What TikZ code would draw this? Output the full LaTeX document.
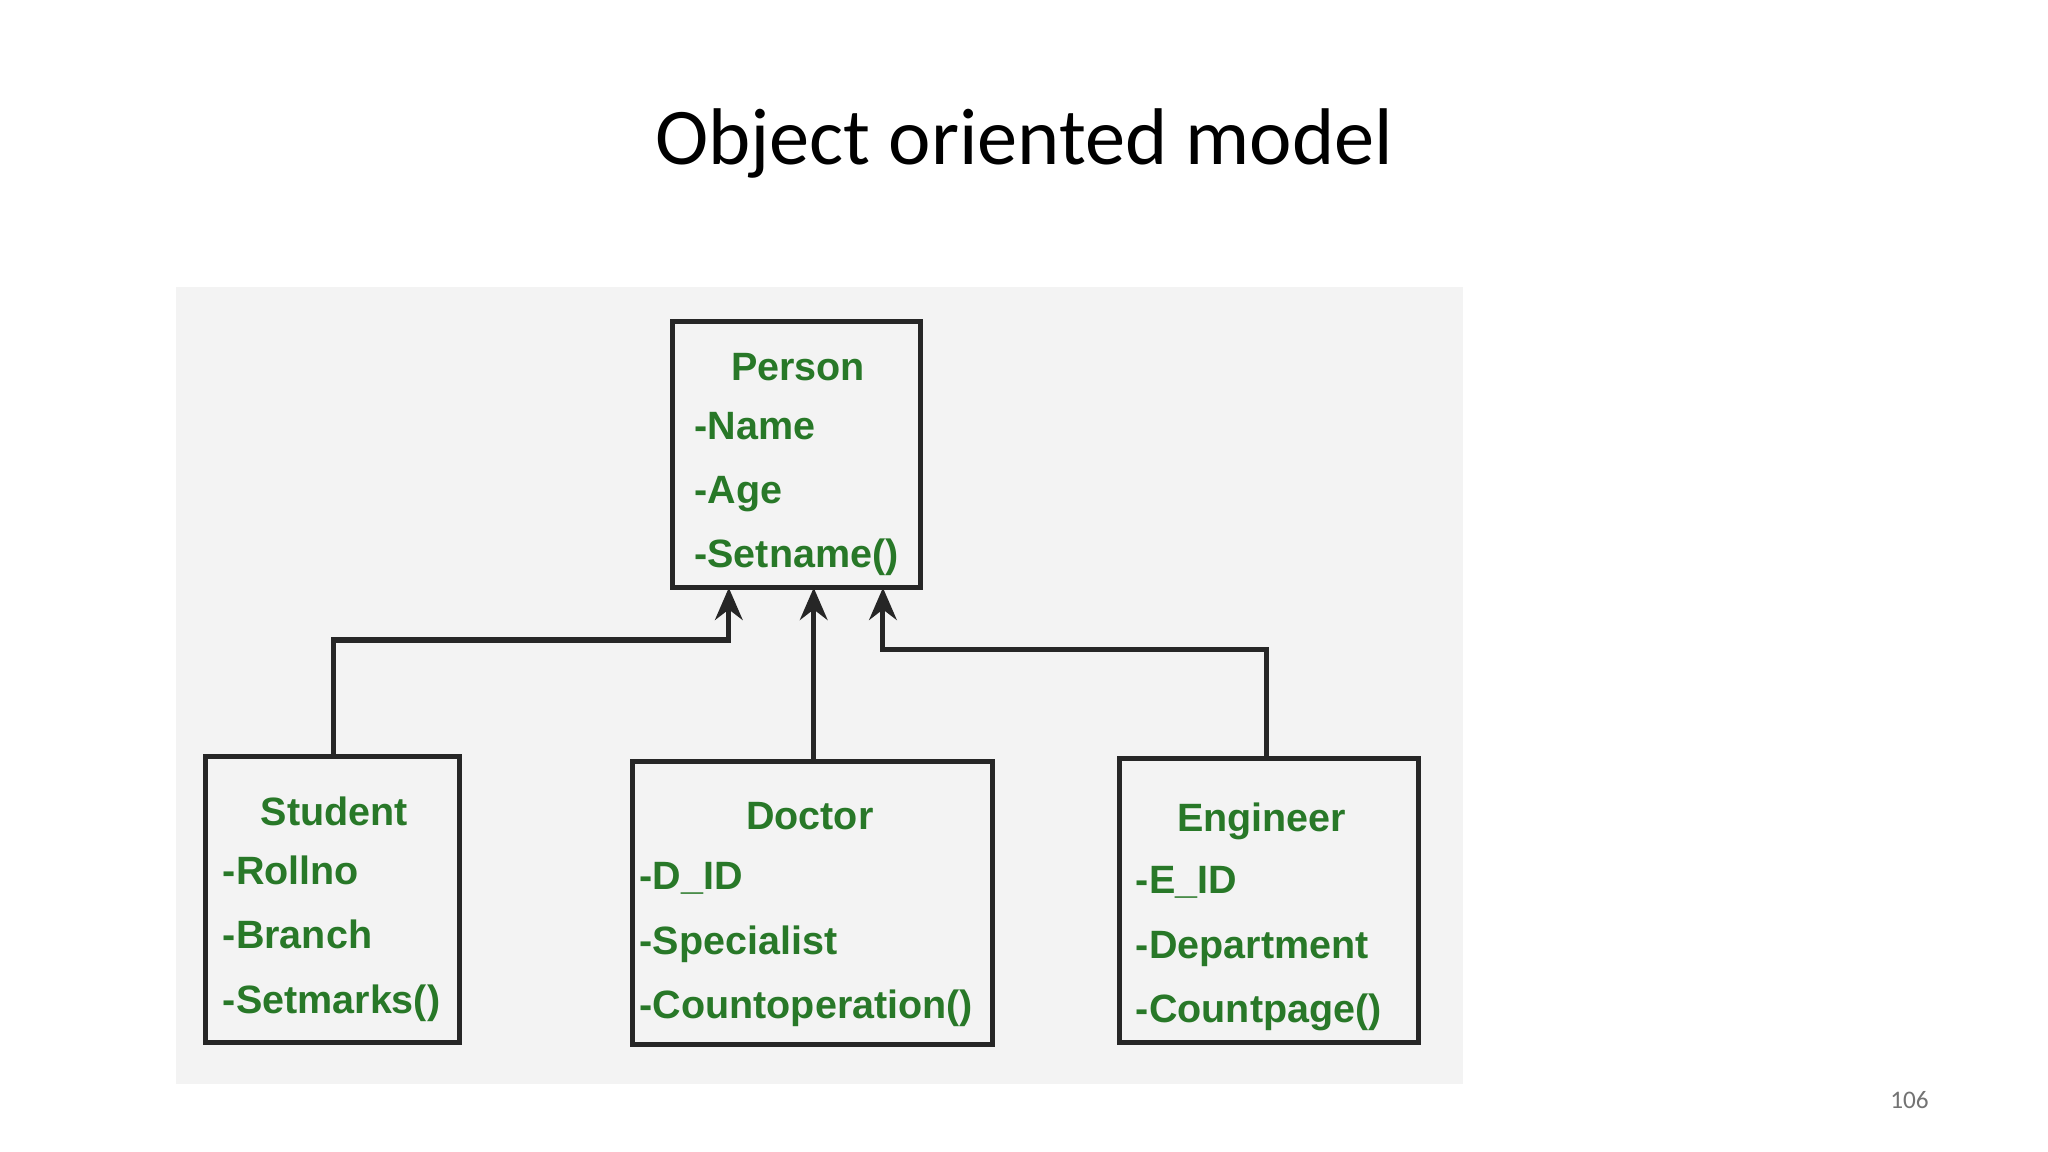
\documentclass[tikz,border=0pt]{standalone}
\usepackage{fontspec}
\setmainfont{Carlito}
\newfontfamily\boxfont{Liberation Sans}
\usetikzlibrary{arrows.meta}
\definecolor{txtgreen}{RGB}{40,120,40}
\definecolor{panel}{RGB}{243,243,243}
\tikzset{
  cls/.style={draw=black!85,line width=1.1pt,fill=panel},
  lbl/.style={font=\boxfont\bfseries\fontsize{8.6}{12}\selectfont,text=txtgreen,inner sep=0pt},
  conn/.style={draw=black!85,line width=1.1pt,-{Stealth[length=7pt,width=6pt]}}
}
\begin{document}
\begin{tikzpicture}[x=0.01cm,y=-0.01cm]
\useasboundingbox (0,0) rectangle (1568,882);
\fill[white] (0,0) rectangle (1568,882);
\node[font=\fontsize{17.5}{20}\selectfont] (title) at (784,110) {Object oriented model};
\fill[panel] (135,220) rectangle (1120,830);
% boxes
\draw[cls] (515,246) rectangle (705,450);
\coordinate (pb1) at (558,450); \coordinate (pb2) at (623,450); \coordinate (pb3) at (676,450);
\draw[cls] (157,579) rectangle (352,798);
\draw[cls] (484,583) rectangle (760,800);
\draw[cls] (857,581) rectangle (1086,798);
\coordinate (st) at (255,579); \coordinate (dt) at (623,583); \coordinate (et) at (970,581);
% texts
\node[lbl] (pn) at (611,281) {Person};
\node[lbl,anchor=north west] (pa) at (531,306) {\begin{tabular}{@{}l@{}}-Name\\[2pt]-Age\\[2pt]-Setname()\end{tabular}};
\node[lbl] (sn) at (256,621) {Student};
\node[lbl,anchor=north west] (sa) at (170,647) {\begin{tabular}{@{}l@{}}-Rollno\\[2pt]-Branch\\[2pt]-Setmarks()\end{tabular}};
\node[lbl] (dn) at (620,625) {Doctor};
\node[lbl,anchor=north west] (da) at (489,651) {\begin{tabular}{@{}l@{}}-D\_ID\\[2pt]-Specialist\\[2pt]-Countoperation()\end{tabular}};
\node[lbl] (en) at (966,629) {Engineer};
\node[lbl,anchor=north west] (ea) at (869,654) {\begin{tabular}{@{}l@{}}-E\_ID\\[2pt]-Department\\[2pt]-Countpage()\end{tabular}};
% connectors
\draw[conn] (st) |- (558,490) -- (pb1);
\draw[conn] (dt) -- (pb2);
\draw[conn] (et) |- (676,497) -- (pb3);
\node[font=\fontsize{5.5}{6}\selectfont,text=black!55] (pg) at (1462,842) {106};
\end{tikzpicture}
\end{document}
